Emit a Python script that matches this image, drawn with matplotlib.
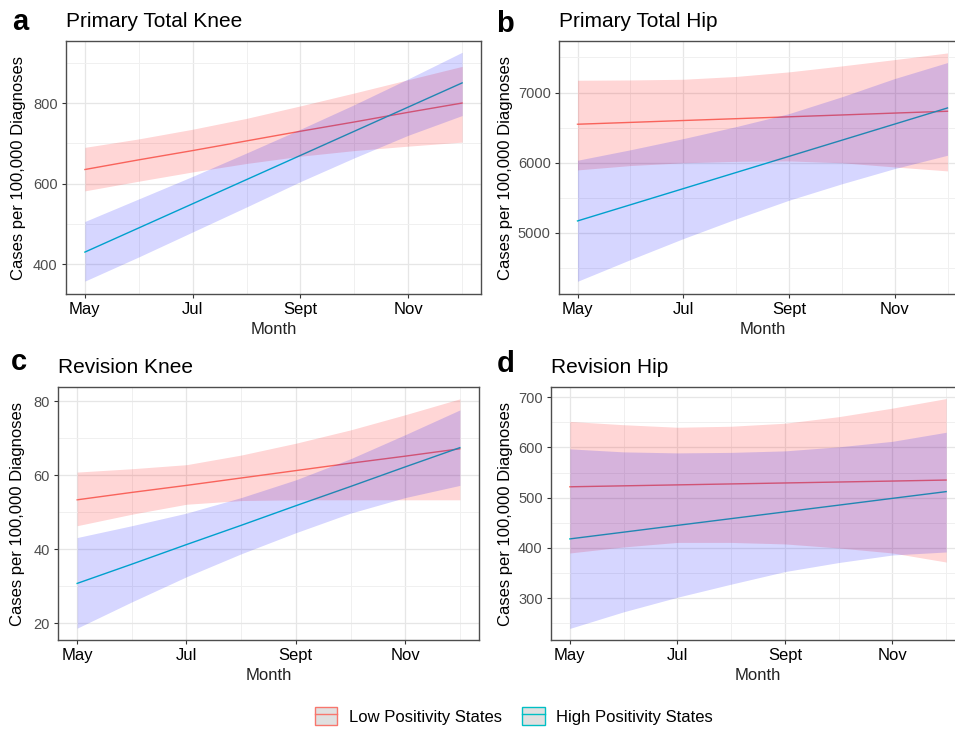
import matplotlib
matplotlib.use("Agg")
import matplotlib.pyplot as plt
from matplotlib.patches import Patch
from matplotlib.lines import Line2D
from matplotlib.ticker import MultipleLocator, FixedLocator

plt.rcParams['font.family'] = ['Liberation Sans', 'DejaVu Sans']

# months May..Dec
months = [5, 6, 7, 8, 9, 10, 11, 12]
month_ticks = [5, 7, 9, 11]
month_labels = ['May', 'Jul', 'Sept', 'Nov']

# a - Primary Total Knee
knee_low = [635, 659, 682, 706, 730, 753, 777, 800]
knee_low_hi = [690, 711, 735, 762, 793, 825, 858, 891]
knee_low_lo = [582, 606, 629, 650, 668, 682, 693, 703]
knee_high = [430, 490, 550, 610, 670, 730, 790, 850]
knee_high_hi = [506, 562, 618, 676, 735, 796, 860, 926]
knee_high_lo = [358, 418, 480, 542, 605, 664, 720, 769]

# b - Primary Total Hip
hip_low = [6549, 6575, 6602, 6628, 6655, 6681, 6708, 6734]
hip_low_hi = [7176, 7180, 7190, 7230, 7295, 7380, 7470, 7565]
hip_low_lo = [5898, 5960, 6000, 6020, 6026, 6000, 5940, 5884]
hip_high = [5171, 5401, 5631, 5861, 6091, 6321, 6551, 6781]
hip_high_hi = [6036, 6185, 6344, 6515, 6700, 6940, 7200, 7428]
hip_high_lo = [4311, 4620, 4919, 5200, 5466, 5700, 5917, 6107]

# c - Revision Knee
rknee_low = [53.4, 55.4, 57.3, 59.3, 61.3, 63.3, 65.2, 67.2]
rknee_low_hi = [60.9, 61.8, 62.9, 65.5, 68.7, 72.3, 76.4, 80.7]
rknee_low_lo = [46.4, 49.5, 52.2, 53.2, 53.4, 53.4, 53.4, 53.4]
rknee_high = [30.8, 36.0, 41.3, 46.5, 51.8, 57.0, 62.3, 67.5]
rknee_high_hi = [43.2, 46.4, 49.8, 54.0, 58.8, 64.5, 71.0, 77.7]
rknee_high_lo = [18.7, 25.8, 32.6, 38.8, 44.5, 49.8, 54.0, 57.3]

# d - Revision Hip
rhip_low = [521.6, 523.5, 525.4, 527.3, 529.2, 531.1, 533.0, 535.0]
rhip_low_hi = [651.6, 645, 640, 642, 648, 661, 678, 697]
rhip_low_lo = [390, 402, 411, 411, 408, 400, 390, 372]
rhip_high = [418, 431.4, 444.9, 458.3, 471.7, 485.1, 498.6, 512]
rhip_high_hi = [597, 591, 589, 590, 593, 601, 612, 630]
rhip_high_lo = [240, 273, 302, 328, 353, 371, 386, 392]

RED = '#F8766D'
TEAL = '#00BFC4'

W, H = 955, 729
fig = plt.figure(figsize=(W / 100, H / 100), dpi=100)


def px_axes(left, right, top, bottom):
    return fig.add_axes([left / W, 1 - bottom / H, (right - left) / W, (bottom - top) / H])


panels = [
    dict(box=(66, 481, 41, 294), letter='a', lx=12, ly=30, title='Primary Total Knee',
         data=(knee_low, knee_low_hi, knee_low_lo, knee_high, knee_high_hi, knee_high_lo),
         ylim=(326, 954), yticks=[400, 600, 800], minor=100, labx=26),
    dict(box=(559, 966, 41, 294), letter='b', lx=496, ly=32, title='Primary Total Hip',
         data=(hip_low, hip_low_hi, hip_low_lo, hip_high, hip_high_hi, hip_high_lo),
         ylim=(4130, 7735), yticks=[5000, 6000, 7000], minor=500, labx=513),
    dict(box=(58, 479, 387, 640), letter='c', lx=11, ly=370, title='Revision Knee',
         data=(rknee_low, rknee_low_hi, rknee_low_lo, rknee_high, rknee_high_hi, rknee_high_lo),
         ylim=(15.5, 83.9), yticks=[20, 40, 60, 80], minor=10, labx=25),
    dict(box=(551, 965, 387, 640), letter='d', lx=497, ly=372, title='Revision Hip',
         data=(rhip_low, rhip_low_hi, rhip_low_lo, rhip_high, rhip_high_hi, rhip_high_lo),
         ylim=(217, 720), yticks=[300, 400, 500, 600, 700], minor=50, labx=513),
]

for p in panels:
    left, right, top, bottom = p['box']
    ax = px_axes(left, right, top, bottom)
    low, low_hi, low_lo, high, high_hi, high_lo = p['data']

    ax.plot(months, low, color=RED, lw=1.0, zorder=2)
    ax.plot(months, high, color=TEAL, lw=1.0, zorder=2)
    ax.fill_between(months, low_lo, low_hi, color='#FF0000', alpha=0.16, lw=0, zorder=3)
    ax.fill_between(months, high_lo, high_hi, color='#0000FF', alpha=0.16, lw=0, zorder=3)

    ax.set_xlim(4.65, 12.35)
    ax.set_ylim(*p['ylim'])
    ax.set_xticks(month_ticks)
    ax.set_xticklabels(month_labels)
    ax.xaxis.set_minor_locator(FixedLocator([6, 8, 10, 12]))
    ax.set_yticks(p['yticks'])
    ax.yaxis.set_minor_locator(MultipleLocator(p['minor']))

    ax.grid(which='major', color='#E6E6E6', lw=0.9, zorder=0)
    ax.grid(which='minor', color='#F0F0F0', lw=0.7, zorder=0)
    ax.set_axisbelow(True)
    ax.tick_params(which='minor', length=0)
    ax.tick_params(which='major', length=3, width=0.8, color='#333333')
    ax.tick_params(axis='x', labelsize=12, labelcolor='black', pad=3)
    ax.tick_params(axis='y', labelsize=10.5, labelcolor='#4D4D4D', pad=3)
    for s in ax.spines.values():
        s.set_color('#4D4D4D')
        s.set_linewidth(1.0)

    ax.set_xlabel('Month', fontsize=12, color='#222222', labelpad=3.5)
    ax.set_ylabel('Cases per 100,000 Diagnoses', fontsize=12, color='black')
    ax.yaxis.set_label_coords((p['labx'] - left) / (right - left), 0.5)
    ax.set_title(p['title'], loc='left', fontsize=15, pad=10)

    fig.text(p['lx'] / W, 1 - p['ly'] / H, p['letter'], fontsize=21, fontweight='bold',
             va='baseline', ha='left')

handles = [
    (Patch(facecolor='#E0E0E0', edgecolor=RED, lw=1.0), Line2D([], [], color=RED, lw=1.0)),
    (Patch(facecolor='#E0E0E0', edgecolor=TEAL, lw=1.0), Line2D([], [], color=TEAL, lw=1.0)),
]
fig.legend(handles, ['Low Positivity States', 'High Positivity States'],
           loc='center', bbox_to_anchor=(514 / W, 1 - 716 / H), ncol=2, frameon=False,
           fontsize=12, handlelength=1.35, handleheight=1.35, handletextpad=0.7,
           columnspacing=1.2)

fig.savefig('out.png', dpi=100)
